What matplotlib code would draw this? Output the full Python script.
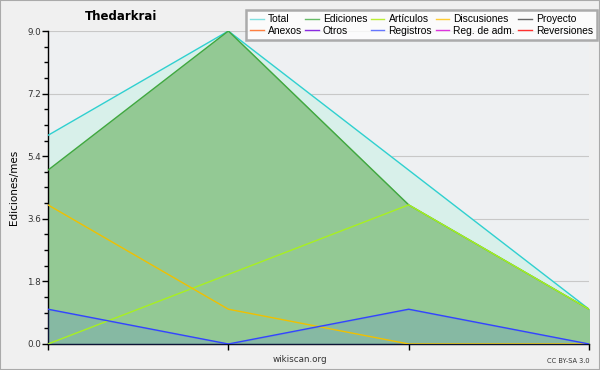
import matplotlib
matplotlib.use("Agg")
import matplotlib.pyplot as plt
from matplotlib.lines import Line2D
import numpy as np

months = [0, 1, 2, 3]
total = [6, 9, 5, 1]
ediciones = [5, 9, 4, 1]
articulos = [0, 2, 4, 1]
discusiones = [4, 1, 0, 0]
registros = [1, 0, 1, 0]

legend_names = ["Total", "Ediciones", "Artículos", "Discusiones", "Proyecto",
                "Anexos", "Otros", "Registros", "Reg. de adm.", "Reversiones"]
legend_colors = ["#7fe0e0", "#66bb66", "#bbee33", "#ffcc33", "#666666",
                 "#ff7f40", "#8a2be2", "#6677ff", "#dd33dd", "#ff3030"]

yticks = [0.0, 1.8, 3.6, 5.4, 7.2, 9.0]

fig = plt.figure(figsize=(6, 3.7), dpi=100, facecolor="#f0f0f0")
ax = fig.add_axes([0.08, 0.0703, 0.9017, 0.8459])
ax.set_facecolor("#eef0f2")

ax.fill_between(months, total, 0, color="#d8f0ea", zorder=1)
ax.fill_between(months, ediciones, 0, color="#93c994", zorder=2)
ax.fill_between(months, registros, 0, color="#4060ff", alpha=0.15, zorder=3)

ax.plot(months, total, color="#30d0d0", lw=1, zorder=5)
ax.plot(months, ediciones, color="#40a840", lw=1, zorder=5)
ax.plot(months, articulos, color="#a8f020", lw=1, zorder=6)
ax.plot(months, discusiones, color="#f0c000", lw=1, zorder=6)
ax.plot(months, registros, color="#3344ff", lw=1, zorder=6)

ax.set_xlim(0, 3)
ax.set_ylim(0, 9)
ax.set_xticks(months)
ax.set_xticklabels([])
ax.set_yticks(yticks)
ax.set_yticklabels([f"{v:.1f}" for v in yticks], fontsize=6.3, color="#333333")
ax.set_yticks(np.arange(0, 9.01, 0.45), minor=True)
ax.tick_params(axis="y", which="major", length=4, width=1, pad=1)
ax.tick_params(axis="y", which="minor", length=3, width=1)
ax.tick_params(axis="x", length=4, width=1)
ax.grid(axis="y", which="major", color="#c8c8c8", lw=0.8, zorder=0)
ax.set_axisbelow(True)
for s in ["top", "right"]:
    ax.spines[s].set_visible(False)
ax.spines["left"].set_linewidth(1)
ax.spines["bottom"].set_linewidth(1)

ax.set_ylabel("Ediciones/mes", fontsize=7.5, labelpad=6)

fig.text(0.142, 0.955, "Thedarkrai", fontsize=8.5, fontweight="bold", ha="left", va="center")
fig.text(0.5, 0.028, "wikiscan.org", fontsize=6.3, ha="center", va="center", color="#333333")
fig.text(0.982, 0.025, "CC BY-SA 3.0", fontsize=4.8, ha="right", va="center", color="#333333")

handles = [Line2D([0], [0], color=c, lw=1) for c in legend_colors]
order = []
for col in range(5):
    order += [col, col + 5]
leg = fig.legend([handles[i] for i in order], [legend_names[i] for i in order],
                 ncol=5, loc="upper right", bbox_to_anchor=(0.995, 0.973),
                 prop={"family": "Liberation Sans", "size": 7.4},
                 frameon=True, fancybox=False, shadow=False,
                 handlelength=1.3, handletextpad=0.4, columnspacing=0.35,
                 labelspacing=0.15, borderpad=0.4, borderaxespad=0)
leg.get_frame().set_edgecolor("#999999")
leg.get_frame().set_linewidth(1.8)
leg.get_frame().set_facecolor("white")

# figure border
fig.patches.append(plt.Rectangle((0, 0), 1, 1, transform=fig.transFigure,
                                 fill=False, edgecolor="#aaaaaa", lw=1.5))

fig.savefig("out.png", dpi=100, facecolor=fig.get_facecolor())
